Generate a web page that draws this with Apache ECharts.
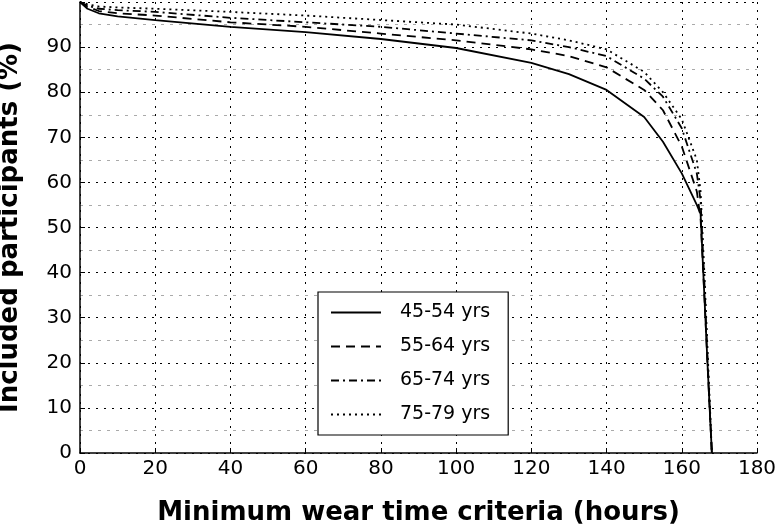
<!DOCTYPE html><html><head><meta charset="utf-8"><script src="https://cdn.jsdelivr.net/npm/echarts@6/dist/echarts.min.js"></script></head><body style="margin:0"><div id="c" style="width:780px;height:525px"></div><script>
const hours=[0,2,5,10,20,40,60,80,100,120,130,140,150,155,160,164,165,166,167,168];
const s45=[100,98.5,97.5,96.8,96,94.5,93.3,91.8,89.8,86.5,84,80.5,74.5,69,62,55,53,35,17,0];
const s55=[100,99,98,97.5,97,95.5,94.5,93,91.5,89.5,88,85.5,80.5,76,68,58,52,35,17,0];
const s65=[100,99.2,98.5,98.2,97.8,96.5,95.5,94.5,93,91.5,90,88,83,79,72,62,56,38,18,0];
const s75=[100,99.5,99,98.8,98.5,97.8,97,96,95,93,91.5,89.5,84.5,80,74,65,58,40,20,0];
const names=['45-54 yrs','55-64 yrs','65-74 yrs','75-79 yrs'];
const types=['solid',[9,6],[8,4,2,4],[2,4]];
const F='DejaVu Sans';
const mk=(n,d,t)=>({name:n,type:'line',data:hours.map((h,i)=>[h,d[i]]),showSymbol:false,symbol:'none',lineStyle:{color:'#000',width:1.8,type:t},itemStyle:{color:'#000'}});
const ch=echarts.init(document.getElementById('c'));
ch.setOption({animation:false,
grid:{left:80,right:23,top:2,bottom:72,containLabel:false,outerBoundsMode:'none'},
xAxis:{type:'value',min:0,max:180,interval:20,name:'Minimum wear time criteria (hours)',nameLocation:'middle',nameGap:47,nameTextStyle:{fontFamily:F,fontSize:26,fontWeight:'bold',color:'#000'},
axisLine:{lineStyle:{color:'#000',width:1.5}},axisTick:{show:true,inside:true,length:5,lineStyle:{color:'#000'}},axisLabel:{fontFamily:F,fontSize:20,color:'#000',margin:6},
splitLine:{lineStyle:{color:'#000',type:[2,6],width:1}}},
yAxis:{type:'value',min:0,max:100,interval:10,name:'Included participants (%)',nameLocation:'middle',nameGap:57,nameTextStyle:{fontFamily:F,fontSize:26,fontWeight:'bold',color:'#000'},
axisLine:{show:true,lineStyle:{color:'#000',width:1.5}},axisTick:{show:true,inside:true,length:5,lineStyle:{color:'#000'}},axisLabel:{fontFamily:F,fontSize:20,color:'#000',margin:8,formatter:v=>v==100?'':v},
splitLine:{lineStyle:{color:'#000',type:[2,6],width:1}},minorTick:{show:false,splitNumber:2},minorSplitLine:{show:true,lineStyle:{color:'#aaa',type:[3,6]}}},
legend:{data:names,orient:'vertical',left:318,top:292,itemWidth:50,itemHeight:14,itemGap:15,padding:[11,18,11,12],borderColor:'#000',borderWidth:1.2,backgroundColor:'#fff',textStyle:{fontFamily:F,fontSize:19,color:'#000',padding:[0,0,0,14]},itemStyle:{opacity:0},lineStyle:{inherit:true}},
series:names.map((n,i)=>mk(n,[s45,s55,s65,s75][i],types[i]))});
</script></body></html>
